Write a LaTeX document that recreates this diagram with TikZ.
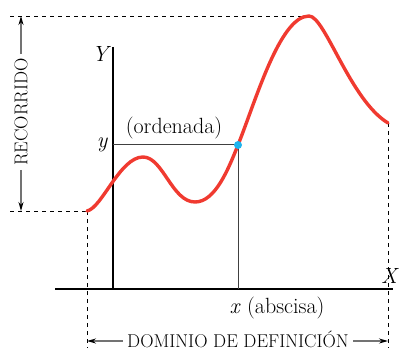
\documentclass[tikz,border=0pt]{standalone}
\usetikzlibrary{arrows.meta}
\definecolor{curvered}{HTML}{F03A30}
\definecolor{dotblue}{HTML}{1EB4EE}
\tikzset{
  axis/.style={line width=1.8pt, black},
  thinline/.style={line width=1.0pt, black!75},
  dash line/.style={dashed, dash pattern=on 4pt off 4pt, line width=0.9pt, black},
  dimarrow/.style={line width=1.2pt, black!55, -{Stealth[length=9pt,width=5pt,black]}},
  lbl/.style={font=\fontsize{22}{26}\selectfont, inner sep=1pt},
  caps/.style={font=\fontsize{18.5}{22}\selectfont, inner sep=4pt},
  fcurve/.style={line width=3.4pt, curvered, line cap=round},
}
\begin{document}
\begin{tikzpicture}[x=1pt,y=-1pt]
\useasboundingbox (0,0) rectangle (399,350);
% coordinates
\coordinate (ytop) at (113,47);
\coordinate (ybot) at (113,289);
\coordinate (xl) at (55,289);
\coordinate (xr) at (393,289);
\coordinate (P) at (238,145);
\coordinate (Px) at (238,289);
\coordinate (Py) at (113,145);
\coordinate (start) at (87,211);
\coordinate (pk1) at (143,157);
\coordinate (tr) at (195,202);
\coordinate (peak) at (309,16);
\coordinate (fin) at (388,123);
\coordinate (rtop) at (21,16);
\coordinate (rbot) at (21,211);
\coordinate (dl) at (87,341);
\coordinate (dr) at (388,341);
\coordinate (lt) at (10,16);
\coordinate (lb) at (10,211);
\coordinate (sb) at (87,348);
\coordinate (fb) at (388,348);
% dashed guides
\draw[dash line] (lt) -- (peak);
\draw[dash line] (lb) -- (start);
\draw[dash line] (start) -- (sb);
\draw[dash line] (fin) -- (fb);
% axes
\draw[axis] (xl) -- (xr);
\draw[axis] (ytop) -- (ybot);
\draw[thinline] (Py) -- (P) -- (Px);
% curve
\draw[fcurve] (start) .. controls (102,208) and (120,157) .. (pk1)
  .. controls (163,157) and (172,202) .. (tr)
  .. controls (215,202) and (228,170) .. (P)
  .. controls (256,100) and (280,16) .. (peak)
  .. controls (325,16) and (350,100) .. (fin);
\fill[dotblue] (P) circle (4);
% labels
\node[lbl] (Y) at (100,54) {\itshape Y};
\node[lbl] (X) at (389,276) {\itshape X};
\node[lbl] (ylab) at (102,145) {\itshape y};
\node[lbl] (ord) at (174,128) {(ordenada)};
\node[lbl] (abs) at (277,308) {\itshape x\upshape\hspace{0.35em}(abscisa)};
\node[caps, rotate=90] (rec) at (21,112) {RECORRIDO};
\node[caps, anchor=base] (dom) at (238,347) {DOMINIO DE DEFINICIÓN};
\draw[dimarrow] (rec) -- (rtop);
\draw[dimarrow] (rec) -- (rbot);
\draw[dimarrow] (dom.west |- dl) -- (dl);
\draw[dimarrow] (dom.east |- dr) -- (dr);
\end{tikzpicture}
\end{document}
